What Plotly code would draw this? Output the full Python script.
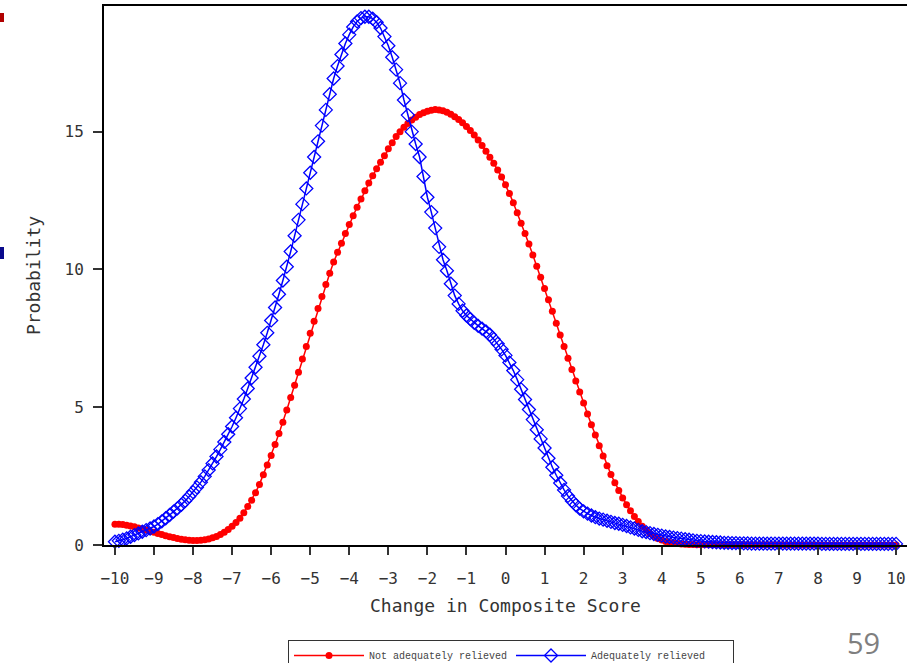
import plotly.graph_objects as go

# Sample positions (change in composite score), 0.1 apart from -10 to 10
score_change = [round(-10 + 0.1 * i, 1) for i in range(201)]

# Not adequately relieved
not_relieved = [
    0.75, 0.75, 0.74, 0.72, 0.69, 0.66, 0.62, 0.58, 0.54, 0.50,
    0.46, 0.42, 0.38, 0.34, 0.30, 0.27, 0.24, 0.21, 0.19, 0.17,
    0.16, 0.16, 0.17, 0.19, 0.22, 0.26, 0.31, 0.38, 0.46, 0.56,
    0.68, 0.82, 0.97, 1.17, 1.40, 1.62, 1.90, 2.20, 2.55, 2.90,
    3.25, 3.65, 4.05, 4.45, 4.90, 5.35, 5.80, 6.27, 6.75, 7.20,
    7.68, 8.12, 8.58, 9.02, 9.45, 9.86, 10.27, 10.62,
    10.95, 11.30, 11.63, 11.95, 12.26, 12.56, 12.86, 13.14, 13.40, 13.65,
    13.89, 14.13, 14.38, 14.60, 14.82, 15.00, 15.16, 15.30, 15.42, 15.52,
    15.62, 15.69, 15.74, 15.78, 15.80, 15.79, 15.76, 15.70, 15.63, 15.54,
    15.44, 15.32, 15.19, 15.04, 14.88, 14.70, 14.50, 14.29, 14.07, 13.85,
    13.61, 13.35, 13.07,
    12.76, 12.42, 12.06, 11.68, 11.30, 10.92, 10.52, 10.12, 9.72, 9.31,
    8.90, 8.48, 8.05, 7.62, 7.20, 6.78, 6.37, 5.95, 5.55, 5.15,
    4.75, 4.36, 3.99, 3.60, 3.23, 2.88, 2.56, 2.26, 1.98, 1.71,
    1.46, 1.24, 1.03, 0.85, 0.68, 0.54, 0.42, 0.32, 0.24, 0.18,
    0.13, 0.09, 0.07, 0.05, 0.04, 0.03, 0.02, 0.02, 0.01, 0.01,
    0.01, 0.01, 0.01, 0.01, 0.01, 0.01, 0.01, 0.01, 0.01, 0.01,
    0.01, 0.01, 0.01, 0.01, 0.01, 0.01, 0.01, 0.01, 0.01, 0.01,
    0.00, 0.00, 0.00, 0.00, 0.00, 0.00, 0.00, 0.00, 0.00, 0.00,
    0.00, 0.00, 0.00, 0.00, 0.00, 0.00, 0.00, 0.00, 0.00, 0.00,
    0.00, 0.00, 0.00, 0.00, 0.00, 0.00, 0.00, 0.00, 0.00, 0.00,
]

# Adequately relieved
relieved = [
    0.12, 0.15, 0.19, 0.24, 0.30, 0.36, 0.42, 0.48, 0.54, 0.60,
    0.67, 0.76, 0.86, 0.97, 1.09, 1.21, 1.33, 1.46, 1.60, 1.76,
    1.92, 2.09, 2.28, 2.49, 2.72, 2.96, 3.21, 3.47, 3.74, 4.02,
    4.30, 4.62, 4.95, 5.30, 5.68, 6.06, 6.45, 6.85, 7.27, 7.70,
    8.15, 8.62, 9.10, 9.60, 10.10, 10.65, 11.22, 11.80, 12.37, 12.94,
    13.51, 14.08, 14.65, 15.22, 15.79, 16.36,
    16.93, 17.38, 17.80, 18.20, 18.52, 18.80, 19.00, 19.12, 19.17, 19.17,
    19.10, 18.97, 18.76, 18.45, 18.12, 17.70, 17.25, 16.76, 16.15, 15.60,
    15.00, 14.55, 14.08, 13.37, 12.62, 12.08, 11.50, 10.82, 10.35, 9.95,
    9.48, 9.05, 8.75, 8.50, 8.33, 8.20, 8.06, 7.95, 7.85, 7.75,
    7.63, 7.47, 7.30, 7.10, 6.88,
    6.62, 6.33, 6.00, 5.65, 5.28, 4.92, 4.55, 4.18, 3.85, 3.52,
    3.15, 2.82, 2.53, 2.25, 2.00, 1.78, 1.60, 1.45, 1.32, 1.22,
    1.14, 1.07, 1.01, 0.96, 0.92, 0.88, 0.84, 0.80, 0.77, 0.73,
    0.69, 0.64, 0.60, 0.55, 0.50, 0.47, 0.43, 0.40, 0.37, 0.34,
    0.31, 0.29, 0.27, 0.25, 0.23, 0.21, 0.19, 0.17, 0.15, 0.14,
    0.13, 0.12, 0.11, 0.10, 0.09, 0.08, 0.08, 0.07, 0.07, 0.06,
    0.06, 0.06, 0.05, 0.05, 0.05, 0.05, 0.05, 0.05, 0.05, 0.05,
    0.05, 0.05, 0.05, 0.05, 0.05, 0.05, 0.05, 0.05, 0.05, 0.05,
    0.04, 0.04, 0.04, 0.04, 0.04, 0.04, 0.04, 0.04, 0.04, 0.04,
    0.04, 0.04, 0.04, 0.04, 0.04, 0.04, 0.04, 0.04, 0.04, 0.04,
]

x_ticks = list(range(-10, 11))
y_ticks = [0, 5, 10, 15]
series_names = ["Not adequately relieved", "Adequately relieved"]

W, H = 907, 663
ML, MR, MT, MB = 104, 0, 6, 118
PW, PH = W - ML - MR, H - MT - MB


def px(x):
    return (x - ML) / PW


def py(y):
    return (H - MB - y) / PH


mono = "DejaVu Sans Mono"

fig = go.Figure()
fig.add_trace(go.Scatter(
    x=score_change, y=not_relieved, name=series_names[0],
    mode="lines+markers",
    line=dict(color="#ff0000", width=1.5),
    marker=dict(symbol="circle", size=7, color="#ff0000"),
    cliponaxis=False,
))
fig.add_trace(go.Scatter(
    x=score_change, y=relieved, name=series_names[1],
    mode="lines+markers",
    line=dict(color="#0000ff", width=1.5),
    marker=dict(symbol="diamond-open", size=10, color="#0000ff",
                line=dict(width=1.3, color="#0000ff")),
    cliponaxis=False,
))

fig.update_layout(
    width=W, height=H,
    margin=dict(l=ML, r=MR, t=MT, b=MB, pad=0, autoexpand=False),
    paper_bgcolor="white", plot_bgcolor="white",
    font=dict(family=mono, color="#333333"),
    xaxis=dict(
        range=[-10.28, 10.28], tickvals=x_ticks,
        showgrid=False, zeroline=False,
        showline=True, linecolor="black", linewidth=2, mirror=True,
        ticks="outside", ticklen=8, tickwidth=1.5, tickcolor="#333333",
        tickfont=dict(family=mono, size=16, color="#333333"),
        ticklabelstandoff=10,
        title=dict(text="Change in Composite Score",
                   font=dict(family=mono, size=18, color="#333333"),
                   standoff=12),
    ),
    yaxis=dict(
        range=[0, 19.56], tickvals=y_ticks,
        showgrid=False, zeroline=False,
        showline=True, linecolor="black", linewidth=2,
        ticks="outside", ticklen=9, tickwidth=1.5, tickcolor="#333333",
        tickfont=dict(family=mono, size=16, color="#333333"),
        ticklabelstandoff=6,
        title=dict(text="Probability",
                   font=dict(family=mono, size=18, color="#333333"),
                   standoff=19),
    ),
    legend=dict(
        orientation="h", x=px(288), y=py(640), xanchor="left", yanchor="top",
        bordercolor="#333333", borderwidth=1, bgcolor="white",
        font=dict(family="Liberation Mono", size=10, color="#444444"),
        itemwidth=70, entrywidth=137, entrywidthmode="pixels",
        tracegroupgap=0,
    ),
    showlegend=True,
)

# Page number and fragments at the left edge of the slide
fig.add_annotation(text="59", xref="paper", yref="paper",
                   x=px(863), y=py(642), xanchor="center", yanchor="middle",
                   showarrow=False, borderpad=0,
                   font=dict(family="Open Sans", size=29, color="#7f7f7f"))
fig.add_shape(type="rect", xref="paper", yref="paper",
              x0=px(-2), x1=px(4), y0=py(22), y1=py(13),
              fillcolor="#b00000", line=dict(width=0))
fig.add_shape(type="rect", xref="paper", yref="paper",
              x0=px(-2), x1=px(4), y0=py(259), y1=py(247),
              fillcolor="#0a0a8c", line=dict(width=0))

fig.write_html("out.html")
